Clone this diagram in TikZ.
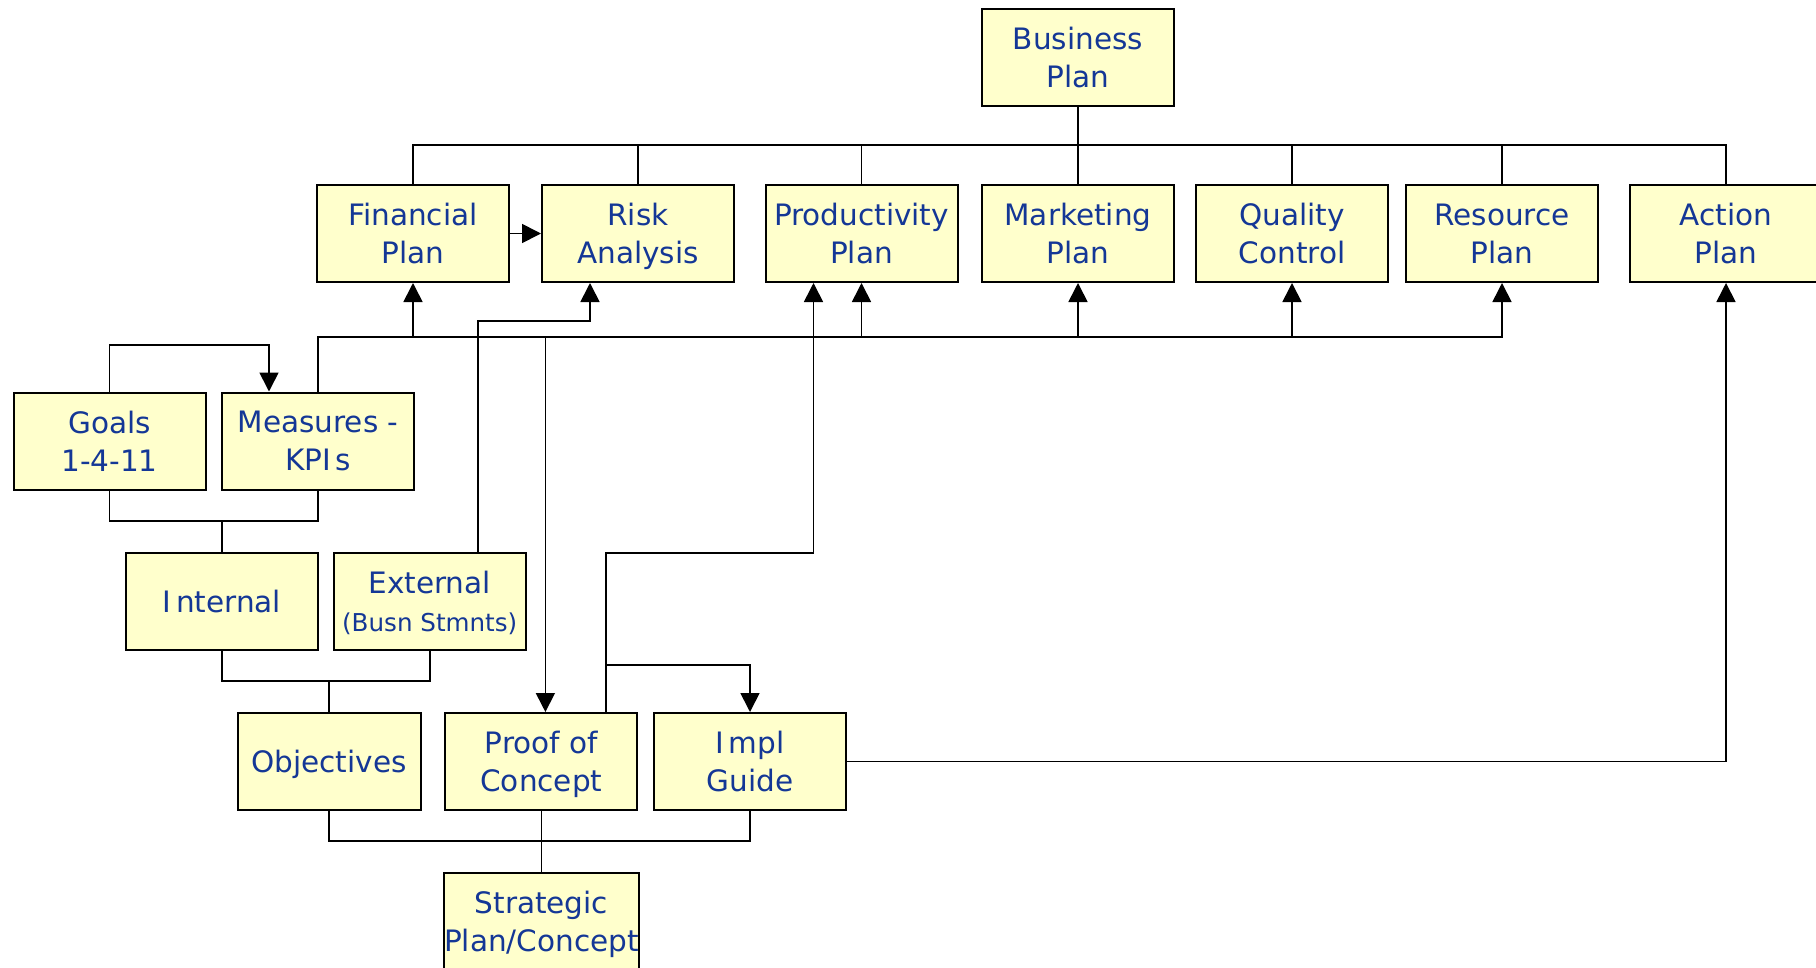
\documentclass[tikz,border=0pt]{standalone}
\usepackage{fontspec}
\setmainfont{DejaVu Sans}
\usetikzlibrary{arrows.meta,calc}
\definecolor{boxfill}{RGB}{255,255,204}
\definecolor{textblue}{RGB}{20,55,150}
\newcommand{\nodesc}[1]{\raisebox{0pt}[\height][0pt]{#1}}
\begin{document}
\begin{tikzpicture}[x=1pt,y=-1pt,
  box/.style={draw, line width=2pt, fill=boxfill, text=textblue,
    minimum width=192pt, minimum height=97pt, align=center, inner sep=0pt,
    font=\fontsize{29.5}{38}\selectfont},
  conn/.style={line width=1.7pt},
  arr/.style={conn, -{Triangle[length=19pt,width=19pt]}}]
\useasboundingbox (0,0) rectangle (1816,967);
\clip (0,0) rectangle (1816,967);
\fill[white] (0,0) rectangle (1816,967);
% nodes
\node[box] (BP) at (1078,57.5) {Business\\Plan};
\node[box] (Fin) at (413,233.5) {Financial\\Plan};
\node[box] (Risk) at (638,233.5) {Risk\\\nodesc{Analysis}};
\node[box] (Prod) at (861.5,233.5) {Productivity\\Plan};
\node[box] (Mkt) at (1078,233.5) {Marketing\\Plan};
\node[box] (QC) at (1292,233.5) {Quality\\Control};
\node[box] (Res) at (1502,233.5) {Resource\\Plan};
\node[box] (Act) at (1726,233.5) {Action\\Plan};
\node[box] (Goals) at (109.5,441) {Goals\\1-4-11};
\node[box] (Meas) at (318,441) {Measures -\\KPI\kern0.15em s};
\node[box] (Int) at (222,601.5) {I\kern0.15em nternal};
\node[box] (Ext) at (429.7,601.5) {External\\{\fontsize{24.6}{30}\selectfont \nodesc{(Busn Stmnts)}}};
\node[box, minimum width=183pt] (Obj) at (329,761.5) {\nodesc{Objectives}};
\node[box] (Proof) at (541.4,761.5) {Proof of\\\nodesc{Concept}};
\node[box] (Impl) at (750,761.5) {I\kern0.15em mpl\\Guide};
\node[box] (Strat) at (541.4,921.5) {Strategic\\\nodesc{Plan/Concept}};
% levels
\coordinate (ytop) at (0,145);
\coordinate (ylow) at (0,337);
\coordinate (yrisk) at (0,320.7);
\coordinate (ygoal) at (0,345);
\coordinate (ygm) at (0,521);
\coordinate (yie) at (0,681);
\coordinate (yprod) at (0,553);
\coordinate (yimpl) at (0,665);
\coordinate (ybot) at (0,841);
% offset ports
\coordinate (riskin) at ([xshift=-48pt]Risk.south);
\coordinate (extout) at ([xshift=48pt]Ext.north);
\coordinate (measin) at ([xshift=-49pt]Meas.north);
\coordinate (proofin) at ([xshift=4pt]Proof.north);
\coordinate (pout) at ([xshift=64.3pt]Proof.north);
\coordinate (prodin) at ([xshift=-48pt]Prod.south);
% top bus
\draw[conn] (BP.south) -- (Mkt.north);
\draw[conn] (Fin.north) |- (ytop -| Act.north) -- (Act.north);
\draw[conn] (Risk.north) -- (Risk.north |- ytop);
\draw[conn] (Prod.north) -- (Prod.north |- ytop);
\draw[conn] (QC.north) -- (QC.north |- ytop);
\draw[conn] (Res.north) -- (Res.north |- ytop);
% financial -> risk
\draw[arr] (Fin.east) -- (Risk.west);
% lower bus
\draw[arr] (Meas.north) |- (ylow -| Res.south) -- (Res.south);
\draw[arr] (ylow -| Fin.south) -- (Fin.south);
\draw[arr] (ylow -| Prod.south) -- (Prod.south);
\draw[arr] (ylow -| Mkt.south) -- (Mkt.south);
\draw[arr] (ylow -| QC.south) -- (QC.south);
\draw[arr] (ylow -| proofin) -- (proofin);
% external -> risk
\draw[arr] (extout) |- (yrisk -| riskin) -- (riskin);
% goals -> measures
\draw[arr] (Goals.north) |- (ygoal -| measin) -- (measin);
% goals/measures -> internal
\draw[conn] (Goals.south) |- (ygm -| Meas.south) -- (Meas.south);
\draw[conn] (ygm -| Int.north) -- (Int.north);
% internal/external -> objectives
\draw[conn] (Int.south) |- (yie -| Ext.south) -- (Ext.south);
\draw[conn] (yie -| Obj.north) -- (Obj.north);
% proof -> productivity, impl
\draw[arr] (pout) |- (yprod -| prodin) -- (prodin);
\draw[arr] (yimpl -| pout) -| (Impl.north);
% impl -> action
\draw[arr] (Impl.east) -| (Act.south);
% bottom
\draw[conn] (Obj.south) |- (ybot -| Impl.south) -- (Impl.south);
\draw[conn] (Proof.south) -- (Strat.north);
\end{tikzpicture}
\end{document}
